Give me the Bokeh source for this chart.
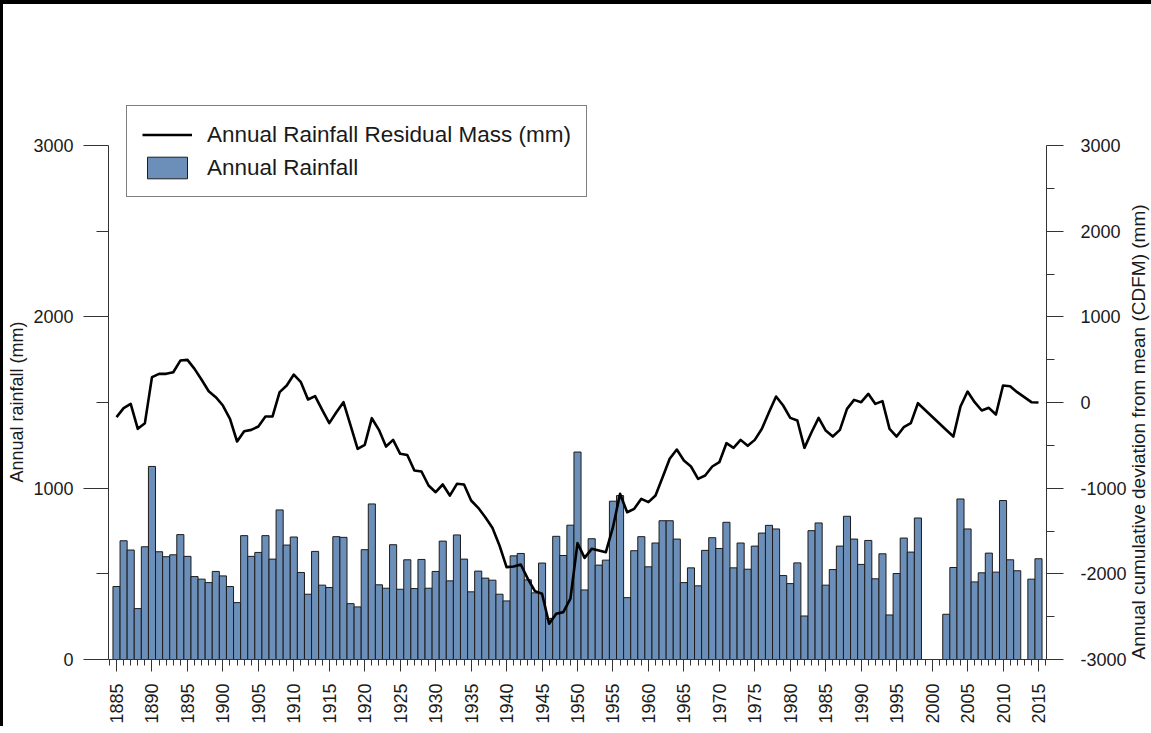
import math
from bokeh.plotting import figure
from bokeh.models import (ColumnDataSource, Range1d, LinearAxis, FixedTicker,
                          Legend, LegendItem, Title)
from bokeh.embed import file_html
from bokeh.resources import INLINE

FONT = "Liberation Sans"

# ---- data ----
rain_years = list(range(1885, 1999)) + [2002, 2003, 2004, 2005, 2006, 2007,
                                         2008, 2009, 2010, 2011, 2012, 2014, 2015]
rain_mm = [
    426, 693, 639, 297, 658, 1127, 629, 600, 611, 729,          # 1885-1894
    602, 484, 469, 449, 514, 488, 426, 332, 723, 602,           # 1895-1904
    625, 723, 586, 873, 668, 715, 508, 381, 631, 434,           # 1905-1914
    420, 717, 713, 326, 307, 641, 908, 436, 416, 670,           # 1915-1924
    410, 582, 414, 584, 416, 514, 691, 459, 727, 586,           # 1925-1934
    395, 516, 475, 463, 381, 342, 605, 619, 465, 389,           # 1935-1944
    563, 240, 719, 607, 784, 1211, 406, 705, 551, 580,          # 1945-1954
    924, 957, 361, 635, 717, 541, 680, 810, 810, 703,           # 1955-1964
    449, 535, 430, 637, 711, 648, 801, 535, 680, 527,           # 1965-1974
    662, 738, 783, 762, 490, 443, 564, 254, 752, 797,           # 1975-1984
    434, 525, 662, 836, 703, 555, 695, 471, 617, 260,           # 1985-1994
    502, 709, 627, 826,                                         # 1995-1998
    264, 537, 937, 762, 453, 506, 621, 510, 928, 582, 518,      # 2002-2012
    469, 588,                                                   # 2014-2015
]

cdfm_years = list(range(1885, 1999)) + [2002, 2003, 2004, 2005, 2006, 2007,
                                         2008, 2009, 2010, 2011, 2012, 2014, 2015]
cdfm_mm = [
    -171, -66, -16, -307, -241, 296, 335, 335, 354, 490,          # 1885-1894
    498, 393, 265, 132, 62, -35, -191, -455, -335, -319,          # 1895-1904
    -280, -163, -163, 121, 198, 327, 237, 35, 74, -86,            # 1905-1914
    -241, -113, 4, -268, -541, -494, -183, -319, -514, -436,      # 1915-1924
    -599, -612, -794, -805, -969, -1047, -957, -1086, -949, -957, # 1925-1934
    -1144, -1229, -1339, -1463, -1669, -1922, -1914, -1891, -2058, -2202,  # 1935-1944
    -2233, -2583, -2467, -2447, -2290, -1642, -1813, -1708, -1728, -1747,  # 1945-1954
    -1455, -1066, -1281, -1241, -1124, -1163, -1086, -872, -657, -549,     # 1955-1964
    -677, -747, -891, -852, -747, -697, -475, -529, -436, -506,   # 1965-1974
    -436, -307, -113, 70, -35, -179, -210, -529, -347, -179,      # 1975-1984
    -327, -397, -319, -74, 31, 4, 101, -16, 16, -307,             # 1985-1994
    -397, -288, -241, -8,                                         # 1995-1998
    -320, -397, -47, 128, 4, -93, -62, -140, 198, 190, 121,       # 2002-2012
    4, 0,                                                         # 2014-2015
]

year_ticks = list(range(1885, 2016, 5))
year_minor = list(range(1884, 2017))
left_ticks = [0, 1000, 2000, 3000]
left_minor = [500, 1500, 2500]
right_ticks = [-3000, -2000, -1000, 0, 1000, 2000, 3000]
right_minor = [-2500, -1500, -500, 500, 1500, 2500]
right_labels = {t: str(t) for t in right_ticks}   # plain hyphen minus, as in the reference

BAR_COLOR = "#6b8fb8"
TEXT = "#1a1a1a"

p = figure(output_backend="svg", toolbar_location=None,
           frame_width=938, frame_height=571,
           x_range=Range1d(1883.87, 2016.13), y_range=Range1d(0, 3333),
           min_border_left=107, min_border_right=10, min_border_top=88,
           min_border_bottom=10, y_axis_location=None)
p.extra_y_ranges = {"cdfm": Range1d(-3000, 3666)}
p.outline_line_color = None
p.xgrid.visible = False
p.ygrid.visible = False
p.background_fill_color = None
p.border_fill_color = None
p.styles = {"background-color": "white",
            "box-shadow": "inset 3px 4px 0 0 #000000"}

bars = ColumnDataSource(dict(year=rain_years, rain=rain_mm))
line = ColumnDataSource(dict(year=cdfm_years, cdfm=cdfm_mm))

bar_r = p.vbar(x="year", top="rain", bottom=0, width=1.0, source=bars,
               fill_color=BAR_COLOR, line_color="#1c1c1c", line_width=1)
line_r = p.line(x="year", y="cdfm", source=line, y_range_name="cdfm",
                line_color="black", line_width=2.6, line_join="round")

# ---- axes ----
def style_axis(ax, font_size):
    ax.axis_line_color = "#333333"
    ax.major_tick_line_color = "#333333"
    ax.minor_tick_line_color = "#333333"
    ax.major_tick_in = 0
    ax.minor_tick_in = 0
    ax.major_label_text_font = FONT
    ax.major_label_text_font_size = font_size
    ax.major_label_text_color = TEXT
    ax.axis_label_text_font = FONT
    ax.axis_label_text_font_style = "normal"
    ax.axis_label_text_color = TEXT

xa = p.xaxis[0]
xa.ticker = FixedTicker(ticks=year_ticks, minor_ticks=year_minor)
style_axis(xa, "18px")
xa.major_tick_out = 12
xa.minor_tick_out = 6
xa.major_label_orientation = math.pi / 2
xa.major_label_standoff = 12

left = LinearAxis(ticker=FixedTicker(ticks=left_ticks, minor_ticks=left_minor),
                  bounds=(0, 3000))
style_axis(left, "18px")
left.major_tick_out = 25
left.minor_tick_out = 12
left.major_label_standoff = 10
p.add_layout(left, "left")

left_title = Title(text="Annual rainfall (mm)", align="left", offset=177,
                   text_font=FONT, text_font_size="18px", text_font_style="normal",
                   text_color=TEXT, standoff=8)
p.add_layout(left_title, "left")

right = LinearAxis(y_range_name="cdfm",
                   ticker=FixedTicker(ticks=right_ticks, minor_ticks=right_minor),
                   bounds=(-3000, 3000), major_label_overrides=right_labels)
style_axis(right, "18px")
right.major_tick_out = 17
right.minor_tick_out = 8
right.major_label_standoff = 17
p.add_layout(right, "right")

# outer right axis carrying only the title, reading bottom to top
right_title = LinearAxis(y_range_name="cdfm", ticker=FixedTicker(ticks=[]),
                         bounds=(-3000, 3000),
                         axis_label="Annual cumulative deviation from mean (CDFM) (mm)")
style_axis(right_title, "1px")
right_title.axis_line_color = None
right_title.major_tick_line_color = None
right_title.minor_tick_line_color = None
right_title.major_tick_out = 0
right_title.minor_tick_out = 0
right_title.major_label_standoff = 0
right_title.axis_label_text_font_size = "19px"
right_title.axis_label_standoff = 9
right_title.axis_label_orientation = math.pi / 2
right_title.axis_label_align = "start"
p.add_layout(right_title, "right")

# ---- legend ----
legend = Legend(items=[
    LegendItem(label="Annual Rainfall Residual Mass (mm)", renderers=[line_r]),
    LegendItem(label="Annual Rainfall", renderers=[bar_r]),
], location=(18, 462))
legend.label_text_font = FONT
legend.label_text_font_size = "22.5px"
legend.label_text_color = TEXT
legend.glyph_width = 50
legend.glyph_height = 27
legend.label_height = 27
legend.label_standoff = 15
legend.spacing = 6
legend.padding = 15
legend.margin = 0
legend.border_line_color = "black"
legend.border_line_width = 1
legend.background_fill_color = "white"
legend.background_fill_alpha = 1
p.add_layout(legend, "center")

open("out.html", "w").write(file_html(p, INLINE))
